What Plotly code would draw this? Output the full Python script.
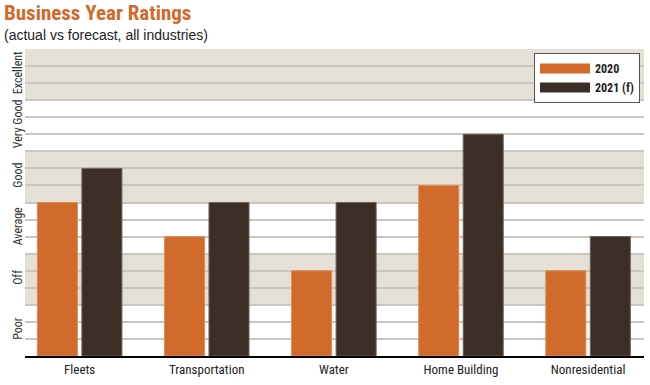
import plotly.graph_objects as go

categories = ["Fleets", "Transportation", "Water", "Home Building", "Nonresidential"]
values_2020 = [9, 7, 5, 10, 5]
values_2021 = [11, 9, 9, 13, 7]
series_names = ["2020", "2021 (f)"]
rating_labels = ["Poor", "Off", "Average", "Good", "Very Good", "Excellent"]
rating_centers = [1.5, 4.5, 7.5, 10.5, 13.5, 16.5]
shaded_bands = [(3, 6), (9, 12), (15, 18)]

ORANGE = "#D06B2C"
DARK = "#3A2E26"
BEIGE = "#E5E0D5"
NARROW = "Roboto Condensed, Open Sans Condensed, Roboto, sans-serif"
series_colors = [ORANGE, DARK]
series_values = [values_2020, values_2021]
outline_colors = ["#E08A55", "#6E6258"]

fig = go.Figure()
for name, vals, col, oc in zip(series_names, series_values, series_colors, outline_colors):
    fig.add_trace(go.Bar(x=categories, y=vals, name=name, showlegend=False,
                         marker=dict(color=col, line=dict(color=oc, width=1))))
# legend-only entries giving wide rectangular swatches
for name, col in zip(series_names, series_colors):
    fig.add_trace(go.Scatter(x=[None], y=[None], name=name, mode="lines",
                             line=dict(color=col, width=13), hoverinfo="skip"))

shapes = []
for lo, hi in shaded_bands:
    shapes.append(dict(type="rect", xref="paper", x0=0, x1=1, yref="y", y0=lo, y1=hi,
                       fillcolor=BEIGE, line=dict(width=0), layer="below"))

fig.update_layout(
    width=650, height=385,
    margin=dict(l=25, r=6, t=49, b=29),
    plot_bgcolor="white", paper_bgcolor="white",
    barmode="group", bargap=0.3, bargroupgap=0.1,
    shapes=shapes,
    showlegend=True,
    legend=dict(x=0.9935, y=0.987, xanchor="right", yanchor="top",
                bgcolor="white", bordercolor="#555555", borderwidth=1,
                font=dict(family=NARROW, size=12, color="#222222", weight="bold"),
                tracegroupgap=0, itemwidth=50),
    xaxis=dict(type="category", range=[-0.43, 4.44], showline=True, linecolor="black",
               linewidth=2, ticks="", showgrid=False,
               tickfont=dict(family=NARROW, size=13, color="#222222")),
    yaxis=dict(range=[0, 18], tickvals=rating_centers, ticktext=rating_labels,
               tickangle=-90, showgrid=False, zeroline=False, ticks="",
               tickfont=dict(family=NARROW, size=12, color="#333333"),
               minor=dict(dtick=1, tick0=0, showgrid=True, gridcolor="#C9C6C0",
                          gridwidth=1.5, ticks="")),
    annotations=[
        dict(text="<b>Business Year Ratings</b>", xref="paper", yref="paper",
             x=-0.037, y=1.117, xanchor="left", yanchor="middle", showarrow=False,
             font=dict(family=NARROW, size=21, color="#D2692B")),
        dict(text="(actual vs forecast, all industries)", xref="paper", yref="paper",
             x=-0.037, y=1.046, xanchor="left", yanchor="middle", showarrow=False,
             font=dict(family="Liberation Sans, Arial, sans-serif", size=14, color="#222222")),
    ],
)

fig.write_html("out.html", config={"displayModeBar": False},
               post_script="document.body.style.margin='0px';")
